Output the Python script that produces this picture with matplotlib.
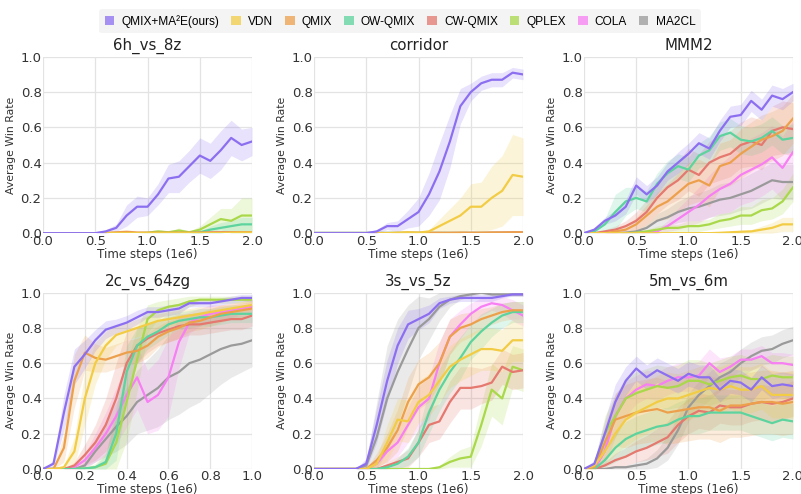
import numpy as np
import matplotlib
matplotlib.use("Agg")
import matplotlib.pyplot as plt
from matplotlib.patches import Patch

methods = ["QMIX+MA²E(ours)", "VDN", "QMIX", "OW-QMIX", "CW-QMIX", "QPLEX", "COLA", "MA2CL"]
keys = ["ma2e", "vdn", "qmix", "ow", "cw", "qplex", "cola", "ma2cl"]
colors = {"ma2e": "#8c6ff0", "vdn": "#f2cc45", "qmix": "#eda04c", "ow": "#5dd39e",
          "cw": "#e5786f", "qplex": "#a9d84a", "cola": "#f77ff3", "ma2cl": "#9a9a9a"}

steps_2m = [0.0, 0.1, 0.2, 0.3, 0.4, 0.5, 0.6, 0.7, 0.8, 0.9, 1.0,
            1.1, 1.2, 1.3, 1.4, 1.5, 1.6, 1.7, 1.8, 1.9, 2.0]
steps_1m = [0.0, 0.05, 0.1, 0.15, 0.2, 0.25, 0.3, 0.35, 0.4, 0.45, 0.5,
            0.55, 0.6, 0.65, 0.7, 0.75, 0.8, 0.85, 0.9, 0.95, 1.0]

# ---- 6h_vs_8z
h8z_mean = {
    "ma2e":  [0, 0, 0, 0, 0, 0, 0.01, 0.03, 0.10, 0.15, 0.15, 0.22, 0.31, 0.32, 0.38, 0.44, 0.41, 0.47, 0.54, 0.50, 0.52],
    "vdn":   [0, 0, 0, 0, 0, 0, 0, 0, 0, 0, 0, 0, 0, 0, 0, 0, 0, 0, 0.002, 0.003, 0.003],
    "qmix":  [0, 0, 0, 0, 0, 0, 0.002, 0.005, 0.008, 0.004, 0.003, 0.003, 0.003, 0.003, 0.003, 0.004, 0.004, 0.005, 0.005, 0.006, 0.006],
    "ow":    [0, 0, 0, 0, 0, 0, 0, 0, 0, 0, 0, 0, 0, 0, 0, 0.005, 0.02, 0.03, 0.04, 0.05, 0.05],
    "cw":    [0, 0, 0, 0, 0, 0, 0, 0, 0, 0, 0, 0, 0, 0, 0, 0, 0.002, 0.003, 0.004, 0.005, 0.005],
    "qplex": [0, 0, 0, 0, 0, 0, 0, 0, 0, 0, 0.003, 0.01, 0.005, 0.015, 0.005, 0.02, 0.05, 0.08, 0.07, 0.10, 0.10],
    "cola":  [0, 0, 0, 0, 0, 0, 0, 0, 0, 0, 0, 0, 0, 0.003, 0.002, 0.002, 0.003, 0.003, 0.004, 0.004, 0.004],
    "ma2cl": [0, 0, 0, 0, 0, 0, 0, 0, 0, 0, 0, 0, 0, 0, 0, 0, 0.002, 0.004, 0.005, 0.005, 0.005],
}
h8z_band = {
    "ma2e":  [0, 0, 0, 0, 0, 0, 0.01, 0.02, 0.06, 0.06, 0.05, 0.06, 0.08, 0.09, 0.09, 0.10, 0.10, 0.11, 0.10, 0.09, 0.08],
    "qplex": [0, 0, 0, 0, 0, 0, 0, 0, 0, 0, 0.003, 0.01, 0.005, 0.015, 0.005, 0.02, 0.04, 0.06, 0.07, 0.10, 0.10],
    "ow":    [0, 0, 0, 0, 0, 0, 0, 0, 0, 0, 0, 0, 0, 0, 0, 0.005, 0.02, 0.03, 0.03, 0.04, 0.04],
}

# ---- corridor
cor_mean = {
    "ma2e":  [0, 0, 0, 0, 0, 0, 0.01, 0.04, 0.04, 0.08, 0.12, 0.22, 0.35, 0.52, 0.72, 0.80, 0.85, 0.87, 0.87, 0.91, 0.90],
    "vdn":   [0, 0, 0, 0, 0, 0, 0, 0, 0.003, 0.005, 0.003, 0.01, 0.04, 0.07, 0.10, 0.15, 0.15, 0.20, 0.24, 0.33, 0.32],
    "qmix":  [0, 0, 0, 0, 0, 0, 0, 0, 0, 0.003, 0.002, 0.002, 0.002, 0.002, 0.003, 0.003, 0.003, 0.004, 0.004, 0.005, 0.005],
    "ow":    [0, 0, 0, 0, 0, 0, 0, 0, 0, 0, 0, 0, 0, 0, 0, 0, 0, 0, 0, 0, 0],
    "cw":    [0, 0, 0, 0, 0, 0, 0, 0, 0, 0, 0, 0, 0, 0, 0, 0, 0, 0.002, 0.003, 0.004, 0.004],
    "qplex": [0, 0, 0, 0, 0, 0, 0, 0, 0, 0, 0, 0, 0, 0, 0, 0, 0, 0, 0, 0, 0],
    "cola":  [0, 0, 0, 0, 0, 0, 0, 0, 0, 0, 0, 0, 0, 0, 0, 0, 0, 0, 0, 0, 0],
    "ma2cl": [0, 0, 0, 0, 0, 0, 0, 0, 0, 0, 0, 0, 0, 0, 0, 0, 0, 0, 0, 0, 0],
}
cor_band = {
    "ma2e":  [0, 0, 0, 0, 0, 0, 0.01, 0.02, 0.03, 0.05, 0.08, 0.12, 0.16, 0.15, 0.10, 0.05, 0.04, 0.04, 0.04, 0.03, 0.03],
    "vdn":   [0, 0, 0, 0, 0, 0, 0, 0, 0.003, 0.005, 0.003, 0.01, 0.04, 0.07, 0.10, 0.13, 0.14, 0.18, 0.20, 0.23, 0.22],
}

# ---- MMM2
mmm_mean = {
    "ma2e":  [0, 0.02, 0.07, 0.10, 0.15, 0.27, 0.22, 0.27, 0.35, 0.40, 0.45, 0.51, 0.48, 0.58, 0.66, 0.67, 0.75, 0.70, 0.78, 0.76, 0.80],
    "vdn":   [0, 0, 0, 0, 0, 0, 0, 0, 0, 0, 0, 0, 0, 0.002, 0.005, 0.008, 0.01, 0.02, 0.03, 0.05, 0.05],
    "qmix":  [0, 0, 0, 0.01, 0.02, 0.05, 0.10, 0.15, 0.18, 0.23, 0.28, 0.30, 0.27, 0.38, 0.40, 0.45, 0.49, 0.53, 0.55, 0.58, 0.65],
    "ow":    [0, 0.01, 0.05, 0.12, 0.18, 0.20, 0.18, 0.28, 0.34, 0.38, 0.36, 0.44, 0.47, 0.55, 0.57, 0.53, 0.52, 0.54, 0.58, 0.53, 0.54],
    "cw":    [0, 0, 0.01, 0.02, 0.04, 0.07, 0.12, 0.20, 0.26, 0.30, 0.36, 0.33, 0.40, 0.43, 0.45, 0.50, 0.52, 0.50, 0.58, 0.60, 0.59],
    "qplex": [0, 0, 0, 0, 0, 0.003, 0.01, 0.02, 0.03, 0.03, 0.04, 0.04, 0.05, 0.07, 0.08, 0.10, 0.10, 0.13, 0.14, 0.18, 0.26],
    "cola":  [0, 0, 0, 0, 0, 0, 0.003, 0.01, 0.04, 0.08, 0.12, 0.16, 0.21, 0.25, 0.28, 0.33, 0.36, 0.39, 0.43, 0.37, 0.46],
    "ma2cl": [0, 0, 0, 0, 0.003, 0.01, 0.03, 0.07, 0.09, 0.12, 0.14, 0.15, 0.17, 0.19, 0.20, 0.22, 0.24, 0.27, 0.30, 0.29, 0.29],
}
mmm_band = {
    "ma2e":  [0, 0.01, 0.02, 0.03, 0.04, 0.05, 0.05, 0.05, 0.05, 0.06, 0.06, 0.06, 0.06, 0.06, 0.06, 0.06, 0.06, 0.06, 0.06, 0.06, 0.05],
    "vdn":   [0, 0, 0, 0, 0, 0, 0, 0, 0, 0, 0, 0, 0, 0.002, 0.005, 0.008, 0.01, 0.02, 0.03, 0.04, 0.04],
    "qmix":  [0, 0, 0, 0.01, 0.02, 0.04, 0.06, 0.08, 0.10, 0.11, 0.12, 0.12, 0.12, 0.13, 0.13, 0.14, 0.14, 0.14, 0.14, 0.14, 0.14],
    "ow":    [0, 0.01, 0.03, 0.10, 0.08, 0.06, 0.06, 0.06, 0.07, 0.07, 0.07, 0.07, 0.08, 0.08, 0.08, 0.08, 0.08, 0.08, 0.08, 0.08, 0.08],
    "cw":    [0, 0, 0.01, 0.02, 0.03, 0.05, 0.07, 0.09, 0.10, 0.11, 0.12, 0.12, 0.12, 0.13, 0.13, 0.13, 0.14, 0.14, 0.14, 0.15, 0.15],
    "qplex": [0, 0, 0, 0, 0, 0.003, 0.01, 0.02, 0.02, 0.02, 0.03, 0.03, 0.03, 0.04, 0.04, 0.05, 0.05, 0.06, 0.06, 0.07, 0.08],
    "cola":  [0, 0, 0, 0, 0, 0, 0.003, 0.01, 0.03, 0.06, 0.08, 0.10, 0.12, 0.14, 0.16, 0.17, 0.18, 0.18, 0.18, 0.18, 0.18],
    "ma2cl": [0, 0, 0, 0, 0.003, 0.01, 0.02, 0.04, 0.05, 0.06, 0.07, 0.08, 0.08, 0.09, 0.09, 0.09, 0.10, 0.10, 0.10, 0.10, 0.10],
}

# ---- 2c_vs_64zg (1e6 steps)
c64_mean = {
    "ma2e":  [0, 0.03, 0.32, 0.58, 0.65, 0.73, 0.79, 0.81, 0.83, 0.86, 0.89, 0.89, 0.90, 0.91, 0.94, 0.94, 0.94, 0.95, 0.96, 0.97, 0.97],
    "vdn":   [0, 0, 0.01, 0.10, 0.40, 0.60, 0.70, 0.76, 0.78, 0.80, 0.82, 0.84, 0.85, 0.86, 0.87, 0.88, 0.89, 0.90, 0.91, 0.92, 0.93],
    "qmix":  [0, 0, 0.12, 0.50, 0.66, 0.63, 0.62, 0.64, 0.66, 0.67, 0.70, 0.75, 0.78, 0.80, 0.83, 0.84, 0.86, 0.88, 0.89, 0.90, 0.91],
    "ow":    [0, 0, 0, 0, 0.003, 0.01, 0.04, 0.20, 0.55, 0.70, 0.75, 0.78, 0.82, 0.84, 0.85, 0.86, 0.86, 0.87, 0.88, 0.88, 0.88],
    "cw":    [0, 0, 0, 0.02, 0.08, 0.15, 0.25, 0.40, 0.60, 0.70, 0.74, 0.77, 0.79, 0.81, 0.82, 0.82, 0.83, 0.84, 0.85, 0.85, 0.87],
    "qplex": [0, 0, 0, 0, 0.003, 0.01, 0.03, 0.15, 0.38, 0.62, 0.85, 0.90, 0.92, 0.93, 0.95, 0.96, 0.96, 0.96, 0.96, 0.96, 0.96],
    "cola":  [0, 0, 0, 0.01, 0.05, 0.12, 0.20, 0.30, 0.42, 0.52, 0.38, 0.42, 0.52, 0.72, 0.83, 0.86, 0.88, 0.89, 0.90, 0.91, 0.92],
    "ma2cl": [0, 0, 0, 0, 0.02, 0.10, 0.17, 0.24, 0.30, 0.38, 0.42, 0.46, 0.52, 0.55, 0.60, 0.62, 0.65, 0.68, 0.70, 0.71, 0.73],
}
c64_band = {
    "ma2e":  [0, 0.02, 0.10, 0.10, 0.08, 0.06, 0.05, 0.04, 0.04, 0.04, 0.03, 0.03, 0.03, 0.03, 0.02, 0.02, 0.02, 0.02, 0.02, 0.02, 0.02],
    "vdn":   [0, 0, 0.01, 0.08, 0.15, 0.12, 0.08, 0.06, 0.05, 0.05, 0.05, 0.04, 0.04, 0.04, 0.04, 0.04, 0.03, 0.03, 0.03, 0.03, 0.03],
    "qmix":  [0, 0, 0.08, 0.15, 0.10, 0.08, 0.07, 0.07, 0.07, 0.07, 0.07, 0.06, 0.06, 0.06, 0.05, 0.05, 0.05, 0.05, 0.04, 0.04, 0.04],
    "ow":    [0, 0, 0, 0, 0.003, 0.01, 0.04, 0.15, 0.15, 0.10, 0.07, 0.06, 0.06, 0.05, 0.05, 0.05, 0.05, 0.05, 0.05, 0.05, 0.05],
    "cw":    [0, 0, 0, 0.02, 0.06, 0.10, 0.15, 0.20, 0.18, 0.10, 0.08, 0.07, 0.07, 0.07, 0.06, 0.06, 0.06, 0.06, 0.06, 0.06, 0.06],
    "qplex": [0, 0, 0, 0, 0.003, 0.02, 0.06, 0.15, 0.22, 0.18, 0.08, 0.05, 0.04, 0.04, 0.03, 0.02, 0.02, 0.02, 0.02, 0.02, 0.02],
    "cola":  [0, 0, 0, 0.01, 0.04, 0.08, 0.12, 0.16, 0.18, 0.18, 0.18, 0.20, 0.22, 0.15, 0.06, 0.05, 0.05, 0.04, 0.04, 0.04, 0.04],
    "ma2cl": [0, 0, 0, 0, 0.02, 0.06, 0.10, 0.14, 0.16, 0.18, 0.20, 0.22, 0.24, 0.24, 0.25, 0.24, 0.22, 0.20, 0.18, 0.16, 0.15],
}

# ---- 3s_vs_5z
s5z_mean = {
    "ma2e":  [0, 0, 0, 0, 0, 0.03, 0.25, 0.50, 0.70, 0.82, 0.85, 0.88, 0.94, 0.96, 0.97, 0.97, 0.97, 0.97, 0.98, 0.99, 0.99],
    "vdn":   [0, 0, 0, 0, 0, 0, 0.03, 0.15, 0.28, 0.27, 0.38, 0.42, 0.50, 0.58, 0.62, 0.65, 0.68, 0.68, 0.67, 0.73, 0.73],
    "qmix":  [0, 0, 0, 0, 0, 0, 0.05, 0.12, 0.22, 0.38, 0.48, 0.52, 0.60, 0.75, 0.80, 0.82, 0.85, 0.87, 0.89, 0.90, 0.90],
    "ow":    [0, 0, 0, 0, 0, 0, 0, 0.01, 0.03, 0.07, 0.15, 0.32, 0.45, 0.55, 0.63, 0.72, 0.78, 0.83, 0.87, 0.89, 0.89],
    "cw":    [0, 0, 0, 0, 0, 0, 0, 0.02, 0.04, 0.06, 0.15, 0.25, 0.27, 0.38, 0.46, 0.46, 0.47, 0.49, 0.58, 0.55, 0.56],
    "qplex": [0, 0, 0, 0, 0, 0, 0, 0, 0, 0, 0, 0, 0.01, 0.04, 0.06, 0.07, 0.25, 0.45, 0.40, 0.58, 0.56],
    "cola":  [0, 0, 0, 0, 0, 0, 0.03, 0.10, 0.15, 0.25, 0.35, 0.40, 0.60, 0.75, 0.82, 0.88, 0.92, 0.94, 0.93, 0.90, 0.87],
    "ma2cl": [0, 0, 0, 0, 0, 0.02, 0.18, 0.40, 0.55, 0.68, 0.80, 0.85, 0.92, 0.96, 0.98, 0.99, 1.00, 0.99, 0.99, 0.99, 0.99],
}
s5z_band = {
    "ma2e":  [0, 0, 0, 0, 0, 0.03, 0.10, 0.12, 0.10, 0.08, 0.06, 0.05, 0.03, 0.02, 0.02, 0.02, 0.02, 0.02, 0.01, 0.01, 0.01],
    "vdn":   [0, 0, 0, 0, 0, 0, 0.03, 0.10, 0.12, 0.12, 0.12, 0.12, 0.12, 0.12, 0.12, 0.12, 0.12, 0.12, 0.12, 0.12, 0.12],
    "qmix":  [0, 0, 0, 0, 0, 0, 0.04, 0.08, 0.12, 0.14, 0.14, 0.14, 0.12, 0.10, 0.08, 0.07, 0.06, 0.05, 0.05, 0.05, 0.05],
    "ow":    [0, 0, 0, 0, 0, 0, 0, 0.01, 0.03, 0.05, 0.08, 0.12, 0.12, 0.12, 0.12, 0.10, 0.10, 0.08, 0.07, 0.06, 0.06],
    "cw":    [0, 0, 0, 0, 0, 0, 0, 0.02, 0.03, 0.05, 0.08, 0.10, 0.10, 0.12, 0.12, 0.12, 0.10, 0.10, 0.10, 0.10, 0.10],
    "qplex": [0, 0, 0, 0, 0, 0, 0, 0, 0, 0, 0, 0, 0.01, 0.03, 0.05, 0.06, 0.12, 0.15, 0.15, 0.12, 0.12],
    "cola":  [0, 0, 0, 0, 0, 0, 0.02, 0.06, 0.08, 0.10, 0.12, 0.12, 0.12, 0.10, 0.08, 0.06, 0.05, 0.04, 0.05, 0.06, 0.06],
    "ma2cl": [0, 0, 0, 0, 0, 0.03, 0.20, 0.30, 0.30, 0.25, 0.18, 0.12, 0.08, 0.04, 0.02, 0.01, 0.01, 0.01, 0.01, 0.01, 0.01],
}

# ---- 5m_vs_6m
m6m_mean = {
    "ma2e":  [0, 0.03, 0.20, 0.38, 0.50, 0.57, 0.52, 0.56, 0.53, 0.50, 0.54, 0.52, 0.52, 0.45, 0.50, 0.49, 0.45, 0.52, 0.47, 0.48, 0.47],
    "vdn":   [0, 0.02, 0.10, 0.20, 0.28, 0.32, 0.35, 0.38, 0.40, 0.40, 0.42, 0.44, 0.46, 0.45, 0.47, 0.45, 0.45, 0.47, 0.42, 0.42, 0.42],
    "qmix":  [0, 0.01, 0.15, 0.28, 0.30, 0.32, 0.33, 0.34, 0.32, 0.33, 0.34, 0.35, 0.35, 0.33, 0.36, 0.36, 0.37, 0.38, 0.38, 0.37, 0.38],
    "ow":    [0, 0, 0.05, 0.12, 0.17, 0.20, 0.22, 0.24, 0.25, 0.28, 0.30, 0.30, 0.32, 0.32, 0.32, 0.32, 0.30, 0.28, 0.26, 0.28, 0.27],
    "cw":    [0, 0, 0.02, 0.05, 0.07, 0.10, 0.12, 0.15, 0.18, 0.25, 0.30, 0.33, 0.32, 0.36, 0.35, 0.35, 0.37, 0.38, 0.37, 0.38, 0.40],
    "qplex": [0, 0.02, 0.20, 0.30, 0.40, 0.43, 0.45, 0.47, 0.46, 0.47, 0.50, 0.50, 0.48, 0.50, 0.52, 0.53, 0.51, 0.51, 0.53, 0.52, 0.52],
    "cola":  [0, 0, 0.10, 0.30, 0.40, 0.45, 0.48, 0.47, 0.50, 0.52, 0.52, 0.53, 0.60, 0.55, 0.58, 0.62, 0.62, 0.64, 0.60, 0.60, 0.59],
    "ma2cl": [0, 0, 0, 0.01, 0.01, 0.02, 0.03, 0.06, 0.12, 0.22, 0.35, 0.42, 0.47, 0.52, 0.55, 0.60, 0.64, 0.67, 0.68, 0.71, 0.73],
}
m6m_band = {
    "ma2e":  [0, 0.02, 0.08, 0.10, 0.08, 0.07, 0.07, 0.07, 0.07, 0.07, 0.07, 0.07, 0.07, 0.07, 0.07, 0.07, 0.07, 0.07, 0.07, 0.07, 0.07],
    "vdn":   [0, 0.02, 0.08, 0.12, 0.15, 0.15, 0.15, 0.15, 0.15, 0.14, 0.14, 0.14, 0.13, 0.13, 0.13, 0.13, 0.13, 0.13, 0.13, 0.13, 0.13],
    "qmix":  [0, 0.01, 0.10, 0.15, 0.18, 0.18, 0.18, 0.18, 0.18, 0.18, 0.18, 0.18, 0.18, 0.18, 0.18, 0.18, 0.18, 0.18, 0.18, 0.18, 0.18],
    "ow":    [0, 0, 0.04, 0.08, 0.10, 0.10, 0.10, 0.10, 0.10, 0.10, 0.10, 0.10, 0.10, 0.10, 0.10, 0.10, 0.10, 0.10, 0.10, 0.10, 0.10],
    "cw":    [0, 0, 0.02, 0.04, 0.05, 0.06, 0.07, 0.08, 0.09, 0.10, 0.10, 0.10, 0.10, 0.10, 0.10, 0.10, 0.10, 0.10, 0.10, 0.10, 0.10],
    "qplex": [0, 0.02, 0.10, 0.12, 0.12, 0.12, 0.12, 0.12, 0.12, 0.12, 0.12, 0.12, 0.12, 0.12, 0.12, 0.12, 0.12, 0.12, 0.12, 0.12, 0.12],
    "cola":  [0, 0, 0.08, 0.12, 0.10, 0.08, 0.08, 0.08, 0.08, 0.08, 0.08, 0.08, 0.08, 0.08, 0.06, 0.06, 0.06, 0.06, 0.06, 0.06, 0.06],
    "ma2cl": [0, 0, 0, 0.01, 0.01, 0.02, 0.03, 0.05, 0.07, 0.08, 0.08, 0.08, 0.08, 0.08, 0.08, 0.08, 0.08, 0.08, 0.08, 0.08, 0.08],
}

panels = [
    ("6h_vs_8z", steps_2m, h8z_mean, h8z_band, 2.0),
    ("corridor", steps_2m, cor_mean, cor_band, 2.0),
    ("MMM2", steps_2m, mmm_mean, mmm_band, 2.0),
    ("2c_vs_64zg", steps_1m, c64_mean, c64_band, 1.0),
    ("3s_vs_5z", steps_2m, s5z_mean, s5z_band, 2.0),
    ("5m_vs_6m", steps_2m, m6m_mean, m6m_band, 2.0),
]

plt.rcParams["font.family"] = "DejaVu Sans"
fig = plt.figure(figsize=(8.01, 4.94), dpi=100)

lefts = [0.0537, 0.392, 0.729]
bottoms = [0.528, 0.0506]
w, h = 0.261, 0.357

for i, (title, x, means, bands, xmax) in enumerate(panels):
    ax = fig.add_axes([lefts[i % 3], bottoms[i // 3], w, h])
    x = np.array(x)
    # baselines first so our method ends up on top
    for k in keys[::-1]:
        m = np.array(means[k])
        if k in bands:
            b = np.array(bands[k])
            ax.fill_between(x, np.clip(m - b, 0, 1), np.clip(m + b, 0, 1.02),
                            color=colors[k], alpha=0.2, lw=0)
        ax.plot(x, m, color=colors[k], lw=1.6, zorder=3 if k == "ma2e" else 2)
    ax.set_xlim(0, xmax)
    ax.set_ylim(0, 1.0)
    if xmax == 2.0:
        ax.set_xticks([0, 0.5, 1.0, 1.5, 2.0])
    else:
        ax.set_xticks([0, 0.2, 0.4, 0.6, 0.8, 1.0])
    ax.set_yticks([0, 0.2, 0.4, 0.6, 0.8, 1.0])
    ax.xaxis.set_major_formatter(plt.FormatStrFormatter("%.1f"))
    ax.yaxis.set_major_formatter(plt.FormatStrFormatter("%.1f"))
    ax.grid(True, color="#e3e3e3", lw=0.9)
    ax.set_axisbelow(True)
    for s in ax.spines.values():
        s.set_visible(False)
    ax.tick_params(length=0, pad=1, labelsize=9.5, colors="#333333")
    ax.set_title(title, fontsize=10.8, color="#222222", pad=5)
    ax.set_ylabel("Average Win Rate", fontsize=7.8, color="#333333", labelpad=3)
    ax.set_xlabel("Time steps (1e6)", fontsize=8.6, color="#333333", labelpad=0)

handles = [Patch(facecolor=colors[k], alpha=0.75, edgecolor="none") for k in keys]
leg = fig.legend(handles, methods, loc="center", bbox_to_anchor=(0.4995, 0.957), ncol=8,
                 prop={"family": "Liberation Sans", "size": 8.6}, frameon=True,
                 handlelength=0.8, handleheight=0.8, handletextpad=0.6,
                 columnspacing=1.0, borderpad=0.45)
leg.get_frame().set_facecolor("#f2f2f2")
leg.get_frame().set_edgecolor("none")

fig.savefig("out.png", dpi=100)
